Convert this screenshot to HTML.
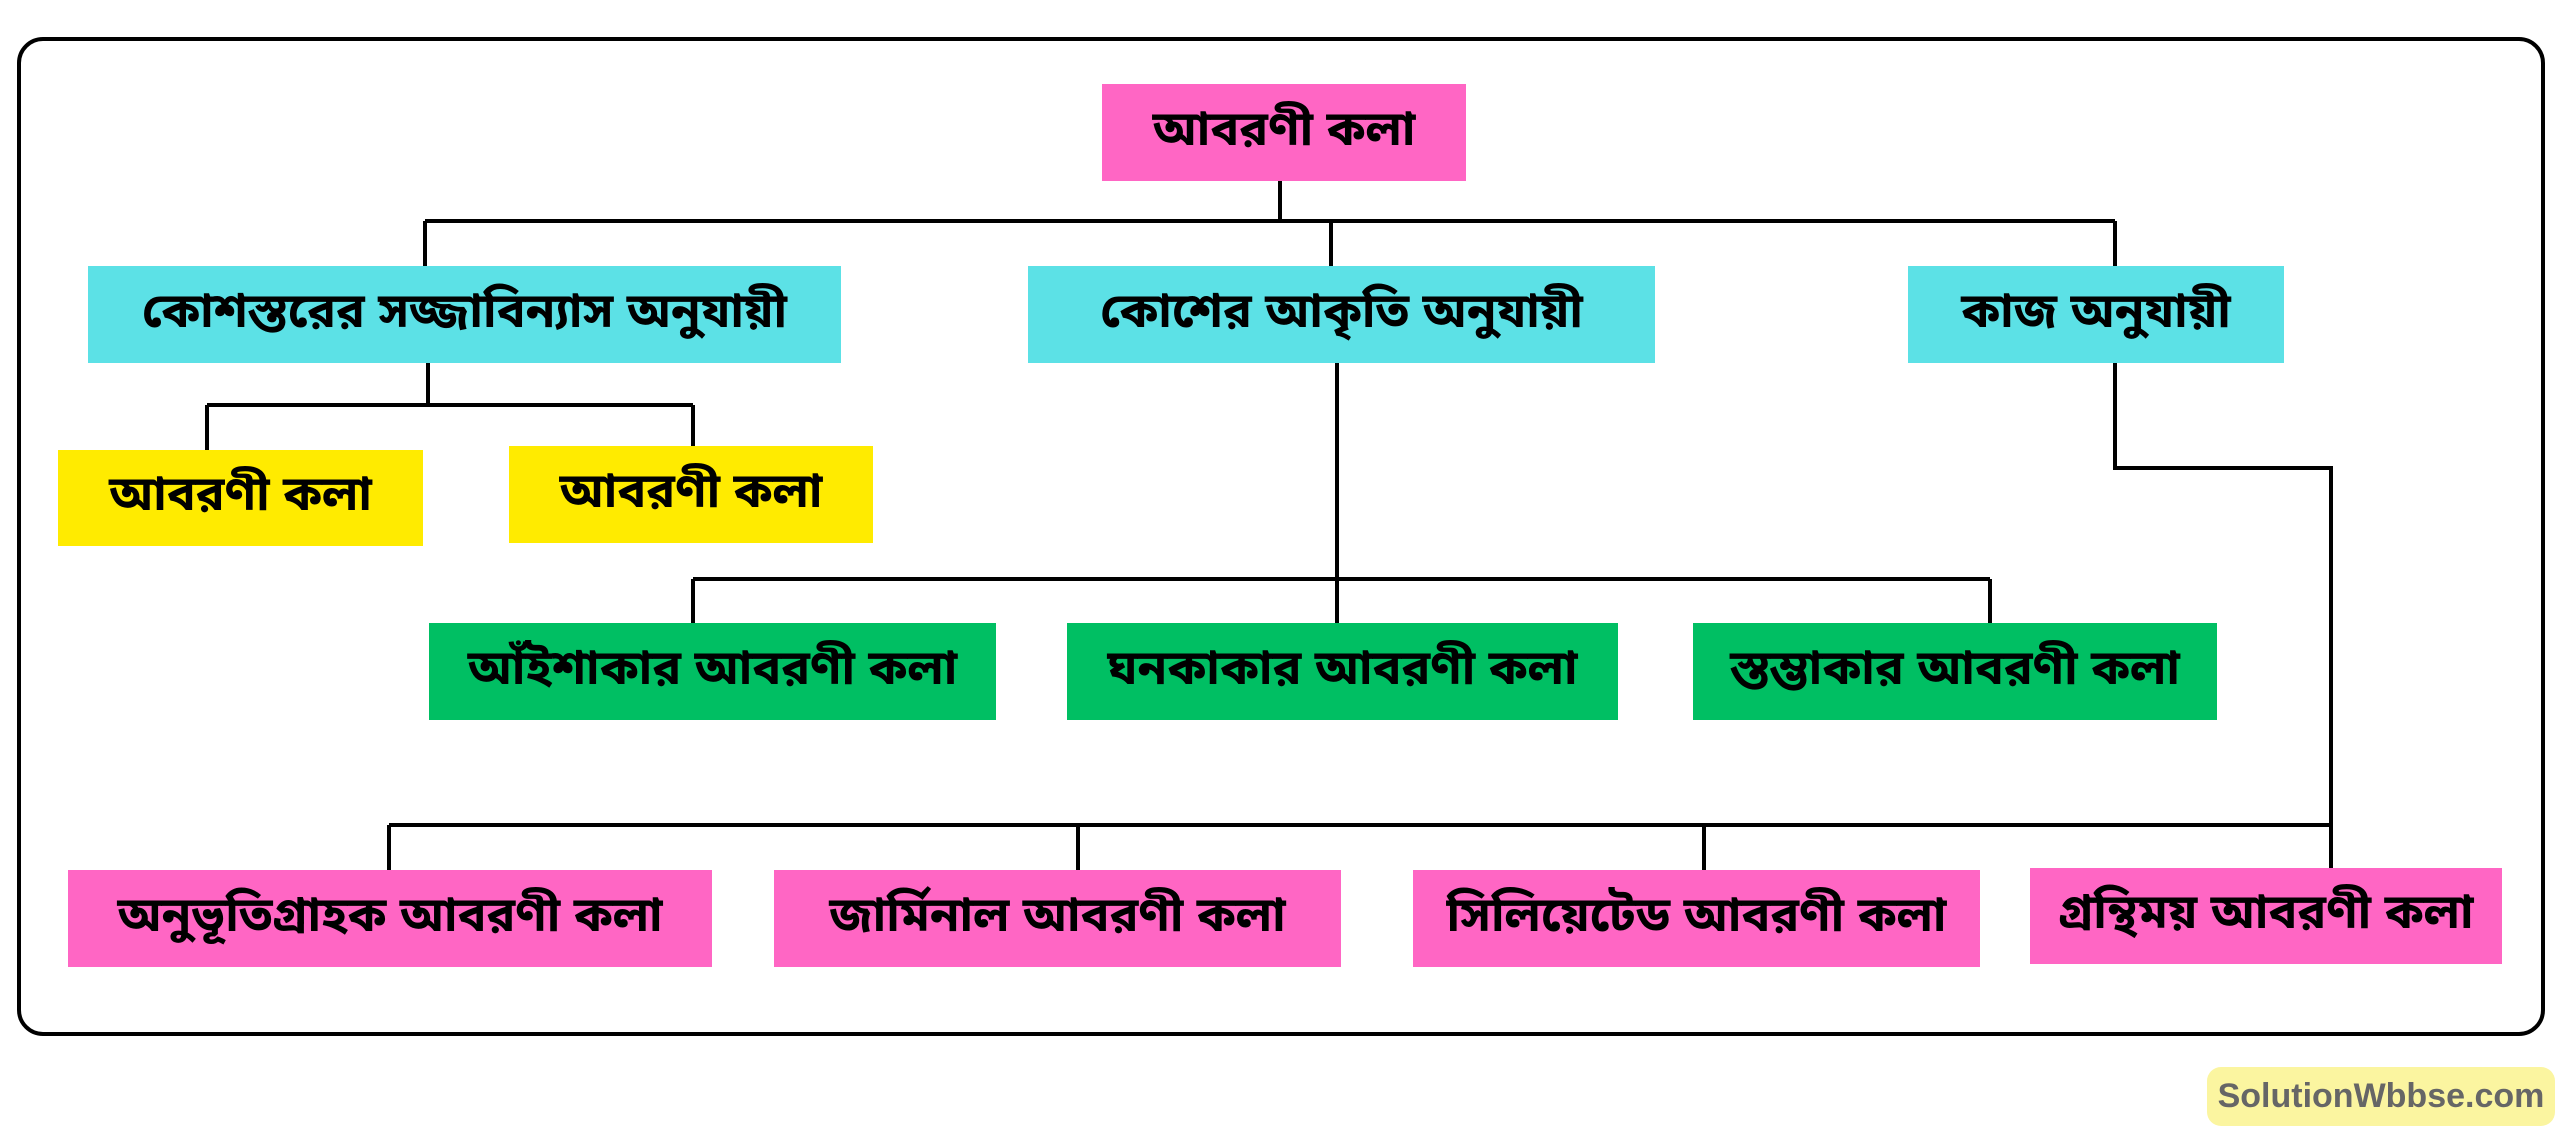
<!DOCTYPE html>
<html><head><meta charset="utf-8"><style>
html,body{margin:0;padding:0;background:#fff;}
#c{position:relative;width:2560px;height:1143px;overflow:hidden;font-family:"Liberation Sans","Noto Sans Bengali","Lohit Bengali",sans-serif;}
.b{position:absolute;display:flex;align-items:center;justify-content:center;font-weight:bold;font-size:48px;color:#000;white-space:nowrap;}
.p{background:#ff66c4}.cy{background:#5ce1e6}.y{background:#ffeb00}.g{background:#00bf63}
svg{position:absolute;left:0;top:0}
</style></head><body><div id="c">
<svg width="2560" height="1143">
<rect x="19" y="39" width="2524" height="995" rx="24" fill="none" stroke="#000" stroke-width="4"/>
<g stroke="#000" stroke-width="4" fill="none">
<path d="M1280 181V221M425 221H2115M425 221V266M1331 221V266M2115 221V266"/>
<path d="M428 363V405M207 405H693M207 405V450M693 405V446"/>
<path d="M1337 363V623M693 579H1990M693 579V623M1990 579V623"/>
<path d="M2115 363V468H2331V869"/>
<path d="M389 825H2331M389 825V870M1078 825V870M1704 825V870"/>
</g>
</svg>
<div class="b p" style="left:1102px;top:84px;width:364px;height:97px">আবরণী কলা</div>
<div class="b cy" style="left:88px;top:266px;width:753px;height:97px">কোশস্তরের সজ্জাবিন্যাস অনুযায়ী</div>
<div class="b cy" style="left:1028px;top:266px;width:627px;height:97px">কোশের আকৃতি অনুযায়ী</div>
<div class="b cy" style="left:1908px;top:266px;width:376px;height:97px">কাজ অনুযায়ী</div>
<div class="b y" style="left:58px;top:450px;width:365px;height:96px">আবরণী কলা</div>
<div class="b y" style="left:509px;top:446px;width:364px;height:97px">আবরণী কলা</div>
<div class="b g" style="left:429px;top:623px;width:567px;height:97px">আঁইশাকার আবরণী কলা</div>
<div class="b g" style="left:1067px;top:623px;width:551px;height:97px">ঘনকাকার আবরণী কলা</div>
<div class="b g" style="left:1693px;top:623px;width:524px;height:97px">স্তম্ভাকার আবরণী কলা</div>
<div class="b p" style="left:68px;top:870px;width:644px;height:97px">অনুভূতিগ্রাহক আবরণী কলা</div>
<div class="b p" style="left:774px;top:870px;width:567px;height:97px">জার্মিনাল আবরণী কলা</div>
<div class="b p" style="left:1413px;top:870px;width:567px;height:97px">সিলিয়েটেড আবরণী কলা</div>
<div class="b p" style="left:2030px;top:868px;width:472px;height:96px">গ্রন্থিময় আবরণী কলা</div>
<div class="b" style="left:2207px;top:1067px;width:348px;height:59px;background:#fbf5a0;border-radius:14px;font-size:34px;color:#666;">SolutionWbbse.com</div>
</div></body></html>
